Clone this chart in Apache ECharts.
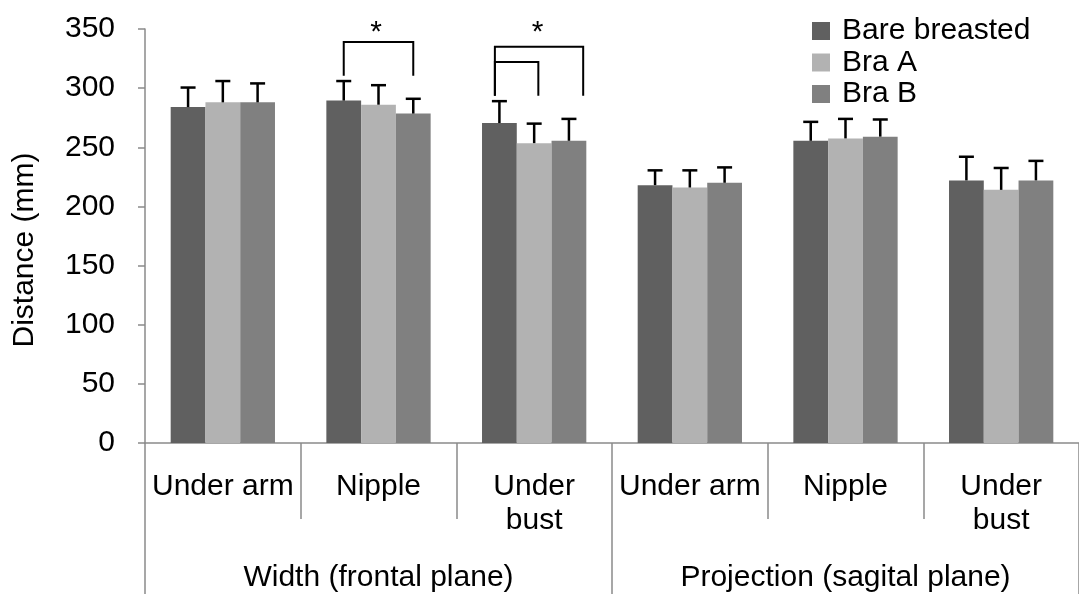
<!DOCTYPE html>
<html>
<head>
<meta charset="utf-8">
<script src="https://cdn.jsdelivr.net/npm/echarts@6/dist/echarts.min.js"></script>
<style>html,body{margin:0;padding:0;background:#fff;}#chart{width:1079px;height:595px;}</style>
</head>
<body>
<div id="chart"></div>
<script>
// ---- data ----
const categories = ['Under arm', 'Nipple', 'Under\nbust', 'Under arm', 'Nipple', 'Under\nbust'];
const groups = ['Width (frontal plane)', 'Projection (sagital plane)'];
const seriesNames = ['Bare breasted', 'Bra A', 'Bra B'];
const bare = [284, 289.5, 270.5, 218, 255.5, 222];
const braA = [288, 286, 253.5, 216, 257.5, 214];
const braB = [288, 278.5, 255.5, 220, 259, 222];
const bareErr = [16.5, 16.5, 18.5, 12.5, 16, 20];
const braAErr = [18, 16.5, 16.5, 14.5, 16.5, 18.5];
const braBErr = [16, 12.5, 18.5, 13, 14.5, 16.5];
const yTicks = [0, 50, 100, 150, 200, 250, 300, 350];
// significance brackets: [category, fromSlot, toSlot, topValue, legValue]
const brackets = [
  [1, -1, 1, 339, 310.5],
  [2, -1.13, 1.41, 335, 293.5],
  [2, -1.13, 0.12, 322, 293.5]
];
// stars: [category, slot, value]
const stars = [[1, -0.07, 347], [2, 0.1, 347]];

const FONT = 'Liberation Sans, Arial, sans-serif';
const FS = 30;
const colors = ['#606060', '#b2b2b2', '#808080'];
const GAP = 0.33;

const chart = echarts.init(document.getElementById('chart'));

function slotX(api, cat, slot) {
  const c = api.coord([cat, 0]);
  const band = api.size([1, 0])[0];
  const w = band * (1 - GAP) / 3;
  return c[0] + slot * w;
}

function errSeries(k, vals, errs) {
  return {
    type: 'custom',
    coordinateSystem: 'cartesian2d',
    xAxisIndex: 0, yAxisIndex: 0,
    silent: true,
    z: 5,
    clip: false,
    encode: {x: 0, y: 1},
    data: vals.map((v, i) => [i, v, errs[i]]),
    renderItem: function (params, api) {
      const cat = api.value(0), v = api.value(1), e = api.value(2);
      const x = slotX(api, cat, k - 1);
      const y0 = api.coord([cat, v])[1];
      const y1 = api.coord([cat, v + e])[1];
      const st = {stroke: '#000', lineWidth: 2.5};
      return {
        type: 'group',
        children: [
          {type: 'line', shape: {x1: x, y1: y0, x2: x, y2: y1}, style: st},
          {type: 'line', shape: {x1: x - 7.5, y1: y1, x2: x + 7.5, y2: y1}, style: st}
        ]
      };
    }
  };
}

const data = [bare, braA, braB];
const errs = [bareErr, braAErr, braBErr];

const series = [];
seriesNames.forEach((n, k) => {
  series.push({
    name: n,
    type: 'bar',
    data: data[k],
    barGap: '0%',
    barCategoryGap: (GAP * 100) + '%',
    itemStyle: {color: colors[k]},
    silent: true
  });
});
seriesNames.forEach((n, k) => series.push(errSeries(k, data[k], errs[k])));

series.push({
  type: 'custom',
  coordinateSystem: 'cartesian2d',
  silent: true,
  clip: false,
  z: 6,
  encode: {x: 0, y: 3},
  data: brackets,
  renderItem: function (params, api) {
    const cat = api.value(0);
    const xa = slotX(api, cat, api.value(1));
    const xb = slotX(api, cat, api.value(2));
    const yt = api.coord([cat, api.value(3)])[1];
    const yl = api.coord([cat, api.value(4)])[1];
    return {
      type: 'polyline',
      shape: {points: [[xa, yl], [xa, yt], [xb, yt], [xb, yl]]},
      style: {stroke: '#000', lineWidth: 2, fill: null}
    };
  }
});

series.push({
  type: 'custom',
  coordinateSystem: 'cartesian2d',
  silent: true,
  clip: false,
  z: 6,
  encode: {x: 0, y: 2},
  data: stars,
  renderItem: function (params, api) {
    const cat = api.value(0);
    const x = slotX(api, cat, api.value(1));
    const y = api.coord([cat, api.value(2)])[1];
    return {
      type: 'text',
      style: {text: '*', x: x, y: y, align: 'center', verticalAlign: 'middle',
              fontSize: FS, fontFamily: FONT, fill: '#000'}
    };
  }
});

const axisGray = '#8a8a8a';

chart.setOption({
  animation: false,
  backgroundColor: '#fff',
  grid: {left: 145, right: -4, top: 29, bottom: 151, containLabel: false},
  legend: {
    data: seriesNames,
    orient: 'vertical',
    left: 812,
    top: 16,
    padding: 0,
    icon: 'rect',
    itemWidth: 18,
    itemHeight: 18,
    itemGap: 1.5,
    textStyle: {fontSize: FS, fontFamily: FONT, color: '#000', lineHeight: 30, padding: [0, 0, 0, 7]},
    selectedMode: false
  },
  xAxis: [
    {
      type: 'category',
      data: categories,
      position: 'bottom',
      axisLine: {show: true, lineStyle: {color: axisGray, width: 1.5}},
      axisTick: {show: true, interval: 0, length: 76, lineStyle: {color: axisGray, width: 1.5}},
      axisLabel: {interval: 0, margin: 27, fontSize: FS, fontFamily: FONT, color: '#000', lineHeight: 34},
      splitLine: {show: false}
    },
    {
      type: 'category',
      data: groups,
      position: 'bottom',
      axisLine: {show: false},
      axisTick: {show: true, interval: 0, length: 151, lineStyle: {color: axisGray, width: 1.5}},
      axisLabel: {interval: 0, margin: 118, fontSize: FS, fontFamily: FONT, color: '#000', lineHeight: 34},
      splitLine: {show: false}
    }
  ],
  yAxis: {
    type: 'value',
    min: yTicks[0],
    max: yTicks[yTicks.length - 1],
    interval: yTicks[1] - yTicks[0],
    axisLine: {show: true, lineStyle: {color: axisGray, width: 1.5}},
    axisTick: {show: true, length: 7, lineStyle: {color: axisGray, width: 1.5}},
    axisLabel: {margin: 30, fontSize: FS, fontFamily: FONT, color: '#000'},
    splitLine: {show: false}
  },
  graphic: [
    {
      type: 'text',
      x: 25, y: 250,
      rotation: Math.PI / 2,
      style: {text: 'Distance (mm)', align: 'center', verticalAlign: 'middle',
              fontSize: FS, fontFamily: FONT, fill: '#000'}
    }
  ],
  series: series
});
</script>
</body>
</html>
